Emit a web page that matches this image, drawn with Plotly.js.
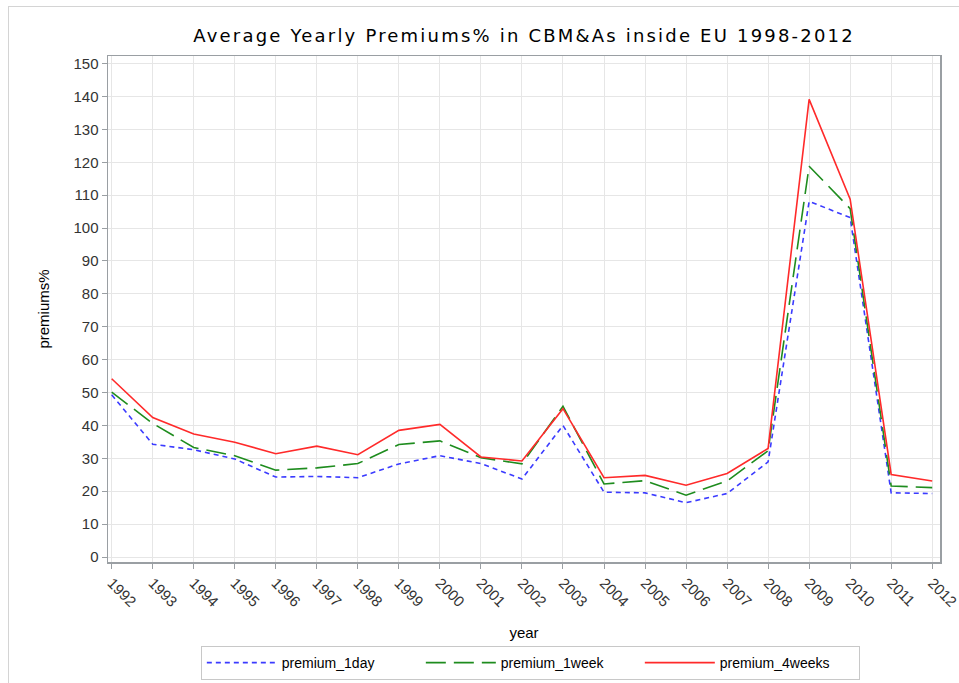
<!DOCTYPE html>
<html>
<head>
<meta charset="utf-8">
<script src="https://cdn.plot.ly/plotly-3.0.1.min.js"></script>
<style>
  html, body { margin: 0; padding: 0; background: #fff; }
  #wrap { position: relative; width: 959px; height: 683px; }
  #chart { width: 959px; height: 683px; }
  #frame { position: absolute; left: 8px; top: 6px; width: 960px; height: 690px; border: 1px solid #d4d4d4; pointer-events: none; }
  .gtitle { letter-spacing: 2.2px; }
</style>
</head>
<body>
<div id="wrap">
  <div id="chart"></div>
  <div id="frame"></div>
</div>
<script>
const years = [1992,1993,1994,1995,1996,1997,1998,1999,2000,2001,2002,2003,2004,2005,2006,2007,2008,2009,2010,2011,2012];
const premium1day   = [49.3,34.3,32.6,29.8,24.3,24.5,24.1,28.3,30.8,28.4,23.7,40.0,19.7,19.5,16.5,19.3,28.9,108.1,103.2,19.5,19.3];
const premium1week  = [50.1,40.6,33.3,30.8,26.4,27.1,28.4,34.2,35.3,30.2,28.3,45.8,22.2,23.2,18.8,23.1,32.3,118.8,105.9,21.6,21.1];
const premium4weeks = [54.2,42.4,37.4,34.9,31.4,33.7,31.1,38.5,40.3,30.4,29.2,45.1,24.1,24.8,21.8,25.4,33.0,139.1,108.8,25.1,23.1];
const seriesNames = ['premium_1day','premium_1week','premium_4weeks'];
const yTicks = [0,10,20,30,40,50,60,70,80,90,100,110,120,130,140,150];

const traces = [
  {x: years, y: premium1day, name: seriesNames[0], type: 'scatter', mode: 'lines',
   line: {color: '#3b3bff', width: 1.6, dash: '5px,4px'}},
  {x: years, y: premium1week, name: seriesNames[1], type: 'scatter', mode: 'lines',
   line: {color: '#1e8c1e', width: 1.6, dash: '20px,8px'}},
  {x: years, y: premium4weeks, name: seriesNames[2], type: 'scatter', mode: 'lines',
   line: {color: '#ff2a2a', width: 1.6}}
];

const tickFont = {family: 'Liberation Sans, Arial, sans-serif', size: 15, color: '#333'};

const layout = {
  width: 959, height: 683,
  paper_bgcolor: '#fff', plot_bgcolor: '#fff',
  margin: {l: 108, r: 19, t: 56, b: 121, pad: 0, autoexpand: false},
  title: {text: 'Average Yearly Premiums% in CBM&As inside EU 1998-2012',
          font: {family: 'DejaVu Sans, sans-serif', size: 18, color: '#000'},
          x: 0.5465, xanchor: 'center', y: 0.947, yanchor: 'middle'},
  xaxis: {
    range: [1991.91, 2012.19],
    tickvals: years, ticktext: years.map(String),
    tickangle: 45,
    tickfont: tickFont,
    ticklabeloverflow: 'allow',
    ticks: 'outside', ticklen: 5, tickcolor: '#9a9fa3', tickwidth: 1,
    showgrid: true, gridcolor: '#e6e6e6', gridwidth: 1,
    showline: true, linecolor: '#9a9fa3', linewidth: 1.5, mirror: true,
    zeroline: false, automargin: false,
    title: {text: 'year', font: {family: 'Liberation Sans, Arial, sans-serif', size: 15, color: '#000'}, standoff: 18}
  },
  yaxis: {
    range: [-1.52, 152.3],
    tickvals: yTicks,
    tickfont: tickFont,
    ticks: 'outside', ticklen: 5, tickcolor: '#9a9fa3', tickwidth: 1,
    showgrid: true, gridcolor: '#e6e6e6', gridwidth: 1,
    showline: true, linecolor: '#9a9fa3', linewidth: 1.5, mirror: true,
    zeroline: false, automargin: false,
    title: {text: 'premiums%', font: {family: 'Liberation Sans, Arial, sans-serif', size: 15, color: '#000'}, standoff: 20}
  },
  showlegend: true,
  legend: {
    orientation: 'h', x: 0.553, xref: 'container', xanchor: 'center',
    y: 0.0044, yref: 'container', yanchor: 'bottom',
    bordercolor: '#c8c8c8', borderwidth: 1, bgcolor: '#fff',
    font: {family: 'Liberation Sans, Arial, sans-serif', size: 14, color: '#000'},
    itemwidth: 70, traceorder: 'normal', entrywidth: 134
  }
};

Plotly.newPlot('chart', traces, layout, {displayModeBar: false, staticPlot: true});
</script>
</body>
</html>
